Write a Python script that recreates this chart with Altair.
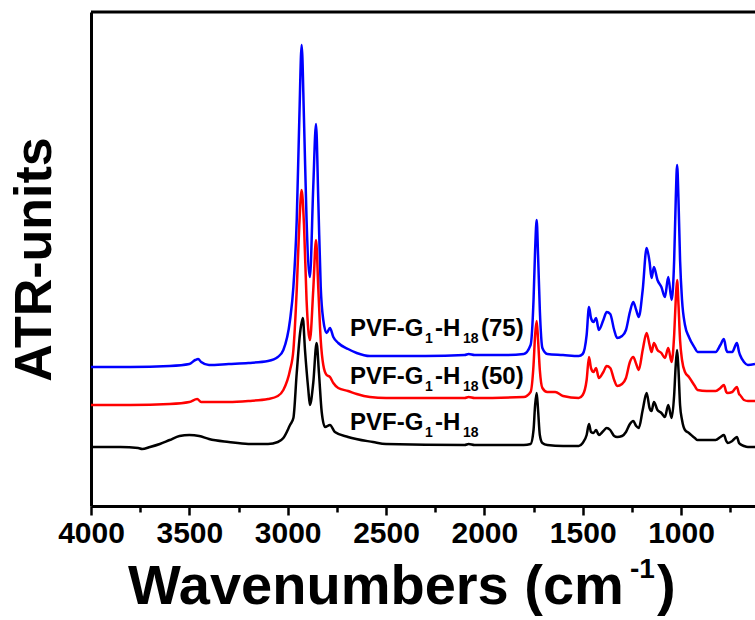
import altair as alt
import pandas as pd

# ---- data (wavenumber in cm-1, intensity in arbitrary ATR units) ----
wn_blue = [4000, 3800, 3600, 3500, 3470, 3455, 3440, 3400, 3300, 3200, 3100, 3050, 3022, 2988, 2971, 2954,
           2941, 2929, 2917, 2904, 2887, 2870, 2856, 2844, 2832, 2819, 2802, 2785, 2768, 2743, 2693, 2649,
           2582, 2500, 2300, 2100, 2080, 2050, 1900, 1800, 1765, 1750, 1742, 1734, 1727, 1718, 1705, 1680,
           1600, 1520, 1500, 1480, 1468, 1458, 1445, 1432, 1418, 1395, 1378, 1360, 1340, 1325, 1300, 1280,
           1260, 1243, 1228, 1215, 1195, 1175, 1160, 1150, 1138, 1120, 1100, 1082, 1065, 1048, 1035, 1027,
           1020, 1013, 1005, 995, 980, 960, 930, 916, 870, 824, 800, 782, 770, 763, 740, 716, 705, 700, 680,
           660, 624]
v_blue = [139, 139, 140, 142, 146, 147, 144, 141, 142, 143, 145, 149, 156, 186, 219, 286,
          386, 461, 386, 286, 229, 319, 382, 303, 219, 186, 173, 178, 169, 163, 157, 153,
          150, 150, 150, 151, 152, 151, 151, 152, 161, 206, 256, 286, 251, 196, 158, 152,
          151, 150, 152, 171, 199, 188, 184, 188, 176, 186, 194, 192, 176, 168, 170, 176,
          194, 204, 196, 189, 216, 258, 244, 228, 239, 226, 219, 209, 229, 206, 246, 306,
          341, 306, 246, 206, 181, 169, 158, 154, 154, 154, 161, 167, 156, 154, 154, 163, 154, 151, 144,
          141, 142]

wn_red = [4000, 3800, 3600, 3500, 3460, 3440, 3300, 3200, 3100, 3050, 3022, 2988, 2971, 2954, 2941, 2929,
          2917, 2904, 2887, 2870, 2856, 2844, 2832, 2819, 2802, 2785, 2768, 2743, 2693, 2649, 2582, 2500,
          2100, 2080, 2050, 1800, 1765, 1750, 1742, 1734, 1727, 1718, 1705, 1680, 1640, 1600, 1520, 1500,
          1480, 1468, 1458, 1445, 1432, 1418, 1395, 1378, 1360, 1340, 1325, 1300, 1280, 1260, 1243, 1228,
          1215, 1195, 1175, 1160, 1150, 1138, 1120, 1100, 1082, 1065, 1048, 1035, 1027, 1020, 1013, 1005,
          995, 980, 960, 930, 916, 870, 824, 800, 782, 770, 763, 740, 716, 705, 700, 680, 660, 624]
v_red = [101, 101, 102, 104, 107, 104, 104, 105, 107, 110, 116, 136, 156, 216, 281, 316,
         281, 206, 166, 216, 266, 216, 166, 141, 131, 129, 123, 118, 115, 112, 109, 108,
         108, 109, 108, 109, 114, 141, 171, 185, 166, 136, 118, 114, 114, 110, 108, 111,
         126, 149, 138, 134, 138, 128, 134, 140, 138, 126, 120, 122, 128, 144, 149, 142,
         136, 156, 173, 161, 154, 163, 156, 153, 148, 158, 144, 171, 206, 226, 201, 166,
         146, 134, 129, 120, 116, 115, 115, 118, 121, 114, 113, 114, 119, 112, 111, 106, 105, 105]

wn_black = [4000, 3850, 3760, 3740, 3700, 3650, 3600, 3550, 3500, 3450, 3400, 3300, 3200, 3100, 3050, 3022,
            2988, 2971, 2954, 2937, 2923, 2912, 2895, 2887, 2870, 2853, 2841, 2827, 2810, 2785, 2760, 2693,
            2566, 2500, 2100, 2080, 2050, 1800, 1765, 1750, 1742, 1734, 1727, 1718, 1705, 1680, 1600, 1520,
            1500, 1480, 1468, 1458, 1445, 1432, 1418, 1395, 1378, 1360, 1340, 1325, 1300, 1280, 1260, 1243,
            1228, 1215, 1195, 1175, 1160, 1150, 1138, 1120, 1100, 1082, 1065, 1048, 1035, 1027, 1020, 1013,
            1005, 995, 980, 960, 930, 916, 870, 824, 800, 782, 770, 763, 740, 716, 705, 700, 680, 660, 624]
v_black = [59, 59, 58, 57, 59, 62, 66, 70, 71, 70, 67, 64, 62, 62, 64, 68,
           81, 88, 133, 173, 188, 156, 116, 101, 123, 163, 133, 94, 79, 81, 74, 69,
           64, 62, 61, 62, 61, 61, 62, 76, 101, 113, 96, 71, 63, 61, 60, 60,
           63, 71, 82, 74, 73, 76, 71, 75, 78, 76, 70, 69, 70, 74, 82, 85,
           80, 78, 96, 113, 98, 95, 104, 96, 93, 89, 101, 88, 111, 141, 156, 136,
           101, 86, 76, 73, 68, 66, 66, 66, 69, 71, 65, 63, 65, 69, 63, 62, 60, 59, 59]

series_names = ["PVF-G1-H18", "PVF-G1-H18(50)", "PVF-G1-H18(75)"]
series_colors = ["#000000", "#ff0000", "#0000ff"]

# label pieces (main text, subscripts, suffix) for each curve
label_suffix = ["", "(50)", "(75)"]
label_wn = [2683, 2683, 2683]          # anchor wavenumber of the label start
label_v = [76, 122, 170]               # baseline level of each label (ATR units)

frames = []
for name, wns, vs in [(series_names[2], wn_blue, v_blue),
                      (series_names[1], wn_red, v_red),
                      (series_names[0], wn_black, v_black)]:
    frames.append(pd.DataFrame({"wn": wns, "v": vs, "series": name}))
df = pd.concat(frames, ignore_index=True)

labels_df = pd.DataFrame({"wn": label_wn, "v": label_v, "suffix": label_suffix})

W, H = 664, 494
FONT = "Liberation Sans, Arial, Helvetica, sans-serif"

xscale = alt.Scale(domain=[4000, 624], nice=False, zero=False)
yscale = alt.Scale(domain=[0, 494], nice=False, zero=False)

tick_values = list(range(750, 4001, 250))

lines = alt.Chart(df).mark_line(strokeWidth=2.5, clip=True, interpolate="monotone").encode(
    x=alt.X("wn:Q", scale=xscale,
            axis=alt.Axis(values=tick_values, format="d",
                          labelExpr="datum.value % 500 === 0 ? datum.label : ''",
                          title=None, grid=False,
                          domainWidth=3, domainColor="black",
                          tickColor="black", tickWidth=2.5,
                          tickSize={"condition": {"test": "datum.value % 500 === 0", "value": 9}, "value": 6},
                          labelFont=FONT, labelFontSize=30, labelFontWeight="bold",
                          labelColor="black", labelPadding=3, labelFlush=False,
                          labelOverlap=False)),
    y=alt.Y("v:Q", scale=yscale,
            axis=alt.Axis(title="ATR-units", labels=False, ticks=False, grid=False,
                          domainWidth=3, domainColor="black",
                          titleFont=FONT, titleFontSize=52, titleFontWeight="bold",
                          titleColor="black", titlePadding=30)),
    color=alt.Color("series:N", scale=alt.Scale(domain=series_names, range=series_colors), legend=None),
    detail="series:N",
)

top_border = alt.Chart(pd.DataFrame({"a": [0]})).mark_rule(strokeWidth=3, color="black").encode(
    x=alt.datum(4000, scale=xscale), x2=alt.datum(624), y=alt.datum(494, scale=yscale)
)

def piece(field_or_text, dx, size, dy=0):
    base = alt.Chart(labels_df).mark_text(align="left", baseline="alphabetic", font=FONT,
                                          fontWeight="bold", fontSize=size, dx=dx, dy=dy, color="black")
    return base.encode(x=alt.X("wn:Q", scale=xscale), y=alt.Y("v:Q", scale=yscale),
                       text=field_or_text)

lbl = [
    piece(alt.value("PVF-G"), 0, 24),
    piece(alt.value("1"), 75, 14, 7),
    piece(alt.value("-H"), 85, 24),
    piece(alt.value("18"), 113, 14, 7),
    piece(alt.Text("suffix:N"), 131, 24),
]

# x-axis title with superscript
xt_main = alt.Chart(pd.DataFrame({"a": [0]})).mark_text(
    align="left", baseline="alphabetic", font=FONT, fontWeight="bold", fontSize=56, color="black"
).encode(x=alt.value(37), y=alt.value(592), text=alt.value("Wavenumbers (cm"))
xt_sup = alt.Chart(pd.DataFrame({"a": [0]})).mark_text(
    align="left", baseline="alphabetic", font=FONT, fontWeight="bold", fontSize=28, color="black"
).encode(x=alt.value(539), y=alt.value(566), text=alt.value("-1"))
xt_close = alt.Chart(pd.DataFrame({"a": [0]})).mark_text(
    align="left", baseline="alphabetic", font=FONT, fontWeight="bold", fontSize=56, color="black"
).encode(x=alt.value(566), y=alt.value(592), text=alt.value(")"))

chart = alt.layer(lines, top_border, *lbl, xt_main, xt_sup, xt_close).properties(
    width=W, height=H,
    padding={"left": 91, "top": 12, "right": 0, "bottom": 114},
    autosize=alt.AutoSizeParams(type="none"),
).configure_view(stroke=None).configure(background="white")

chart.save("out.html", embed_options={"renderer": "svg", "actions": False})
